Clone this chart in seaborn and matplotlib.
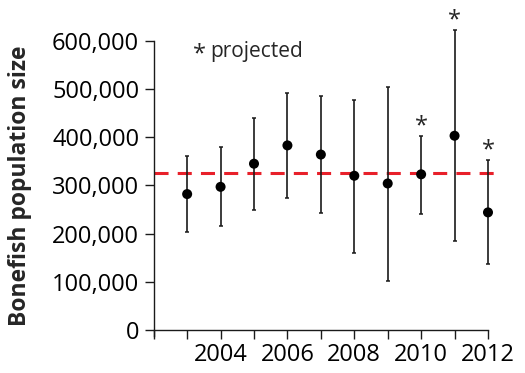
import matplotlib
matplotlib.use("Agg")
import matplotlib.pyplot as plt
import numpy as np
import pandas as pd
import seaborn as sns

# bonefish population estimates with error bar ends
years = [2003, 2004, 2005, 2006, 2007, 2008, 2009, 2010, 2011, 2012]
pop = [282000, 297000, 345000, 383000, 364000, 320000, 304000, 323000, 403000, 244000]
upper = [360000, 379000, 440000, 492000, 486000, 477000, 505000, 402000, 622000, 352000]
lower = [204000, 216000, 248000, 274000, 242000, 160000, 102000, 241000, 185000, 136000]
projected = [2010, 2011, 2012]
mean_pop = 326000

df = pd.DataFrame({"Year": years, "Pop": pop, "Upper": upper, "Lower": lower})

sns.set_style("ticks")
plt.rcParams["font.family"] = ["Open Sans", "DejaVu Sans"]

fig = plt.figure(figsize=[5.25, 3.73], dpi=100)
ax = fig.add_axes([0.2928, 0.1153, 0.9486 - 0.2928, 0.994 - 0.1153])

# error bars
ax.errorbar(
    df["Year"], df["Pop"],
    yerr=[df["Pop"] - df["Lower"], df["Upper"] - df["Pop"]],
    fmt="none", ecolor="#1a1a1a", elinewidth=1.2, capsize=1.6, capthick=1.1,
    zorder=2,
)
sns.scatterplot(
    data=df, x="Year", y="Pop", ax=ax, color="black", s=52,
    edgecolor="none", zorder=3,
)

# long-term mean
ax.axhline(mean_pop, color="#e8202a", lw=2.2, dashes=(4.6, 3.0), zorder=1)

# asterisks for projected years
for yr in projected:
    up = df.loc[df["Year"] == yr, "Upper"].iloc[0]
    ax.annotate("*", (yr, up), xytext=(0, 2.5), textcoords="offset points",
                ha="center", va="baseline", fontsize=17)

ax.text(2003.38, 572000, "*", ha="center", va="center", fontsize=17)
ax.text(2003.68, 567000, "projected", ha="left", va="baseline", fontsize=15)

ax.set_xlim(2002, 2012.3)
ax.set_ylim(0, 680000)
ax.set_xticks(np.arange(2002, 2013, 1))
ax.set_xticklabels(["" if y % 2 or y == 2002 else str(y) for y in range(2002, 2013)])
ax.set_yticks(np.arange(0, 600001, 100000))
ax.set_yticklabels(["{:,}".format(v) for v in range(0, 600001, 100000)])
ax.tick_params(axis="both", direction="out", length=6.5, width=1.0,
               labelsize=17, colors="#1a1a1a", labelcolor="black")
ax.tick_params(axis="y", pad=4)
ax.tick_params(axis="x", pad=3)

ax.set_xlabel("")
ax.set_ylabel("Bonefish population size", fontsize=16.5, fontweight="bold")
ax.yaxis.set_label_coords(-0.3526, 300000 / 680000)

sns.despine(ax=ax)
ax.spines["left"].set_bounds(-12000, 600000)
ax.spines["bottom"].set_bounds(2002, 2012)
for s in ["left", "bottom"]:
    ax.spines[s].set_linewidth(1.0)
    ax.spines[s].set_color("#1a1a1a")

fig.savefig("out.png", dpi=100)
